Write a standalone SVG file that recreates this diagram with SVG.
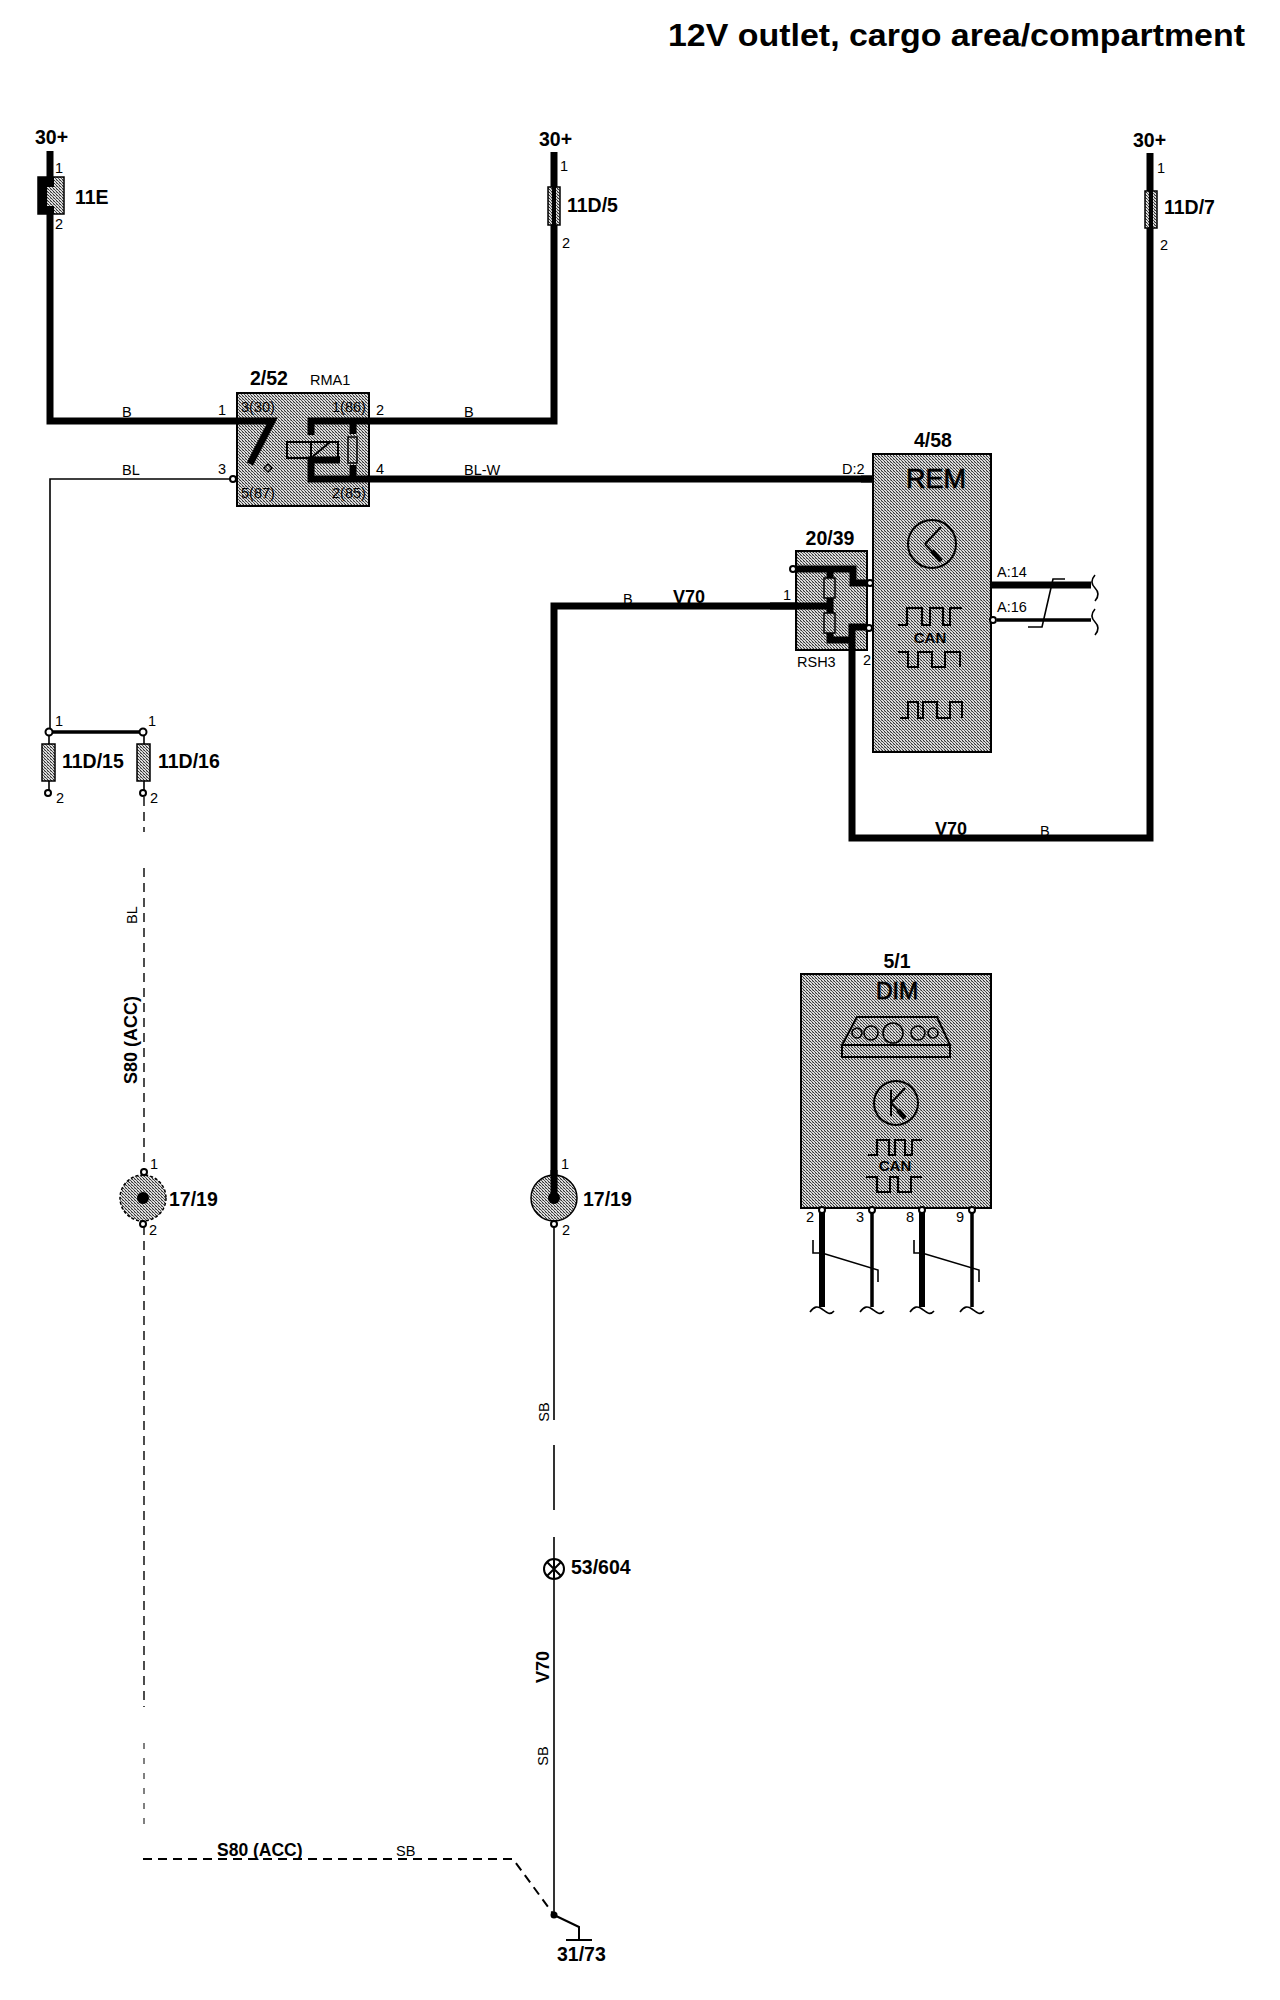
<svg xmlns="http://www.w3.org/2000/svg" width="1280" height="2000" viewBox="0 0 1280 2000">
<style>
text{font-family:"Liberation Sans",Arial,sans-serif;fill:#000}
.b{font-weight:700;font-size:19.5px}
.s{font-size:14.5px}
.m{font-size:18px;font-weight:700}
.mid{text-anchor:middle}
.box{fill:url(#dither);stroke:#000;stroke-width:2}
.hatch{fill:url(#dither);stroke:#000;stroke-width:1.5}
.w7,.w3,.w2,.w1,.d2{fill:none;stroke:#000}
.w7{stroke-width:7;stroke-linejoin:miter}
.w3{stroke-width:3.5}
.w2{stroke-width:1.6}
.w1{stroke-width:2}
.d2{stroke-width:2}
.d1{fill:none;stroke:#000;stroke-width:1.4}
.pin{fill:#fff;stroke:#000;stroke-width:2}
</style>
<defs>
<pattern id="dither" width="3" height="3" patternUnits="userSpaceOnUse">
<rect width="3" height="3" fill="#dcdcdc"/>
<rect width="1" height="1" fill="#333"/>
<rect x="1" y="1" width="1" height="1" fill="#555"/>
<rect x="2" y="2" width="1" height="1" fill="#333"/>
<rect x="2" width="1" height="1" fill="#999"/>
</pattern>
</defs>

<text id="title" x="668" y="46" font-size="32" font-weight="700" textLength="577" lengthAdjust="spacingAndGlyphs">12V outlet, cargo area/compartment</text>

<g id="connectors">
<path class="w7" d="M50 151V421H272L250 464"/>
<path class="w7" d="M554 152V421H311V435"/>
<path class="w7" d="M340 460H311V479H874"/>
<path class="w7" d="M1150 153V838H852V627H867"/>
<path class="w2" d="M233 479H50V732"/>
<path class="w2" d="M237 479H268V470"/>
<path class="w3" d="M50 732H143"/>
<path class="w2" d="M49 735V793M144 735V793"/>
<path class="w7" d="M554 1198V606H833"/>
<path class="w7" d="M796 569H853V583H868"/>
<path class="w7" d="M830 569V578M830 598V613M830 633V640H852"/>
<path class="w7" d="M992 585H1091"/>
<path class="w3" d="M997 620H1091"/>
<path class="w2" d="M1065 579H1053L1042 627H1028"/>
<path class="w2" d="M554 1224V1420M554 1445V1510M554 1537V1915"/>
<path class="d1" stroke-dasharray="9 6" d="M144 797V832M144 868V1172M144 1226V1707"/>
<path class="d1" style="stroke-width:1" stroke-dasharray="6 9" d="M144 1743V1830"/>
<path class="d2" stroke-dasharray="9 6" d="M143 1859H513L554 1915"/>
<path class="w1" d="M554 1915L579 1927V1940M566 1940H592"/>
<path class="w7" d="M822 1208V1307M922 1208V1307" style="stroke-width:6"/>
<path class="w3" d="M872 1208V1307M972 1208V1307"/>
<path class="w2" d="M813 1240V1253H822L878 1270V1282M914 1240V1253H922L979 1270V1282"/>
<path class="w2" d="M810 1312C814 1306 818 1306 822 1309S830 1316 834 1311M860 1312C864 1306 868 1306 872 1309S880 1316 884 1311M910 1312C914 1306 918 1306 922 1309S930 1316 934 1311M960 1312C964 1306 968 1306 972 1309S980 1316 984 1311"/>
<path class="w2" d="M1095 575Q1089 582 1095 588T1095 601M1095 609Q1089 616 1095 622T1095 635"/>
</g>

<g id="n30-1"><text class="b" x="35" y="144">30+</text></g>
<g id="n30-2"><text class="b" x="539" y="146">30+</text></g>
<g id="n30-3"><text class="b" x="1133" y="147">30+</text></g>

<g id="fuse-11E">
<rect class="hatch" x="38" y="177" width="26" height="37"/>
<rect x="38" y="177" width="9" height="37"/>
<rect x="46" y="177" width="8" height="10"/><rect x="46" y="206" width="8" height="8"/>
<text class="s" x="55" y="173">1</text><text class="s" x="55" y="229">2</text>
<text class="b" x="75" y="204">11E</text>
</g>
<g id="fuse-11D-5">
<rect class="hatch" x="548" y="187" width="12" height="38"/>
<path class="w2" d="M554 187V225" style="stroke-width:4"/>
<text class="s" x="560" y="171">1</text><text class="s" x="562" y="248">2</text>
<text class="b" x="567" y="212">11D/5</text>
</g>
<g id="fuse-11D-7">
<rect class="hatch" x="1145" y="191" width="12" height="37"/>
<path class="w2" d="M1151 191V228" style="stroke-width:4"/>
<text class="s" x="1157" y="173">1</text><text class="s" x="1160" y="250">2</text>
<text class="b" x="1164" y="214">11D/7</text>
</g>

<g id="relay-2-52">
<rect class="box" x="237" y="393" width="132" height="113"/>
<path class="w7" d="M237 421H272L250 464"/>
<path class="w7" d="M369 421H311V435"/>
<path class="w7" d="M340 460H311V479H369"/>
<path class="w7" d="M353 421V434M353 465V479"/>
<rect class="hatch" x="348" y="437" width="9" height="26"/>
<path class="w1" d="M311 442H338V458H311M287 442H311V458H287ZM311 458L330 442" style="fill:none;stroke:#000"/>
<path d="M268 464l4 4-4 4-4-4z" fill="none" stroke="#000" stroke-width="1.5"/>
<circle class="pin" cx="233" cy="479" r="3"/>
<text class="b" x="250" y="385">2/52</text>
<text class="s" x="310" y="385">RMA1</text>
<text class="s" x="241" y="412">3(30)</text>
<text class="s" x="332" y="412">1(86)</text>
<text class="s" x="241" y="498">5(87)</text>
<text class="s" x="332" y="498">2(85)</text>
<text class="s" x="218" y="415">1</text><text class="s" x="376" y="415">2</text>
<text class="s" x="218" y="474">3</text><text class="s" x="376" y="474">4</text>
</g>

<g id="module-4-58">
<rect class="box" x="873" y="454" width="118" height="298"/>
<path class="w3" d="M861 479H874" style="stroke-width:7"/>
<text class="b mid" x="933" y="447">4/58</text>
<text class="mid" x="936" y="488" font-size="27" style="stroke:#000;stroke-width:.7">REM</text>
<circle cx="932" cy="544" r="24" fill="none" stroke="#000" stroke-width="2"/>
<path class="w1" d="M925 544L941 527M925 544L941 561" style="stroke-width:2"/>
<path class="w1" d="M932 551L941 561" style="stroke-width:4.5"/>
<path class="w1" d="M898 625H907V608H922V625H930V608H943V625H950V608H962"/>
<path class="w1" d="M898 652H908V667H918V652H932V667H945V652H960V667"/>
<path class="w1" d="M900 718H908V702H918V718H923V702H937V718H950V702H962V718"/>
<text class="mid" x="930" y="643" font-size="15" font-weight="700">CAN</text>
<circle class="pin" cx="993" cy="620" r="3"/>
<text class="s" x="997" y="577">A:14</text>
<text class="s" x="997" y="612">A:16</text>
<text class="s" x="842" y="474">D:2</text>
</g>

<g id="module-20-39">
<rect class="box" x="796" y="551" width="71" height="99"/>
<path class="w7" d="M796 569H853V583H868"/>
<path class="w7" d="M770 606H833M830 569V578M830 598V613M830 633V640H852M852 650V627H867"/>
<rect class="hatch" x="824" y="578" width="11" height="20"/>
<rect class="hatch" x="824" y="613" width="11" height="20"/>
<circle class="pin" cx="793" cy="569" r="3"/>
<circle class="pin" cx="870" cy="583" r="3"/>
<circle class="pin" cx="869" cy="628" r="3"/>
<text class="b mid" x="830" y="545">20/39</text>
<text class="s" x="797" y="667">RSH3</text>
<text class="s" x="783" y="600">1</text><text class="s" x="863" y="665">2</text>
</g>

<g id="module-5-1">
<rect class="box" x="801" y="974" width="190" height="234"/>
<text class="b mid" x="897" y="968">5/1</text>
<text class="mid" x="897" y="999" font-size="23" style="stroke:#000;stroke-width:.7">DIM</text>
<path class="w1" d="M842 1045L857 1017H937L950 1045ZM842 1045V1057H950V1045"/>
<circle cx="857" cy="1033" r="5" fill="none" stroke="#000" stroke-width="1.6"/>
<circle cx="871" cy="1033" r="7" fill="none" stroke="#000" stroke-width="1.6"/>
<circle cx="893" cy="1033" r="10" fill="none" stroke="#000" stroke-width="1.6"/>
<circle cx="918" cy="1033" r="7" fill="none" stroke="#000" stroke-width="1.6"/>
<circle cx="933" cy="1033" r="5" fill="none" stroke="#000" stroke-width="1.6"/>
<circle cx="896" cy="1103" r="22" fill="none" stroke="#000" stroke-width="2"/>
<path class="w1" d="M891 1090V1116M891 1103L905 1088M891 1103L905 1118" style="stroke-width:2"/>
<path class="w1" d="M898 1110L905 1118" style="stroke-width:4.5"/>
<path class="w1" d="M868 1155H877V1140H889V1155H895V1140H905V1155H912V1140H922"/>
<path class="w1" d="M866 1177H877V1192H890V1177H898V1192H911V1177H922"/>
<text class="mid" x="895" y="1171" font-size="15" font-weight="700">CAN</text>
<circle class="pin" cx="822" cy="1210" r="3"/><circle class="pin" cx="872" cy="1210" r="3"/>
<circle class="pin" cx="922" cy="1210" r="3"/><circle class="pin" cx="972" cy="1210" r="3"/>
<text class="s" x="806" y="1222">2</text><text class="s" x="856" y="1222">3</text>
<text class="s" x="906" y="1222">8</text><text class="s" x="956" y="1222">9</text>
</g>

<g id="fuse-11D-15">
<circle class="pin" cx="49" cy="732" r="3.5"/>
<rect class="hatch" x="42" y="744" width="13" height="37"/>
<circle class="pin" cx="48" cy="793" r="3"/>
<text class="s" x="55" y="726">1</text><text class="s" x="56" y="803">2</text>
<text class="b" x="62" y="768">11D/15</text>
</g>
<g id="fuse-11D-16">
<circle class="pin" cx="143" cy="732" r="3.5"/>
<rect class="hatch" x="137" y="744" width="13" height="37"/>
<circle class="pin" cx="143" cy="793" r="3"/>
<text class="s" x="148" y="726">1</text><text class="s" x="150" y="803">2</text>
<text class="b" x="158" y="768">11D/16</text>
</g>

<g id="conn-17-19-left">
<circle class="hatch" cx="143" cy="1198" r="23" stroke-dasharray="3 2"/>
<circle cx="143" cy="1198" r="6"/>
<circle class="pin" cx="144" cy="1172" r="3"/><circle class="pin" cx="143" cy="1224" r="3"/>
<text class="s" x="150" y="1169">1</text><text class="s" x="149" y="1235">2</text>
<text class="b" x="169" y="1206">17/19</text>
</g>
<g id="conn-17-19-right">
<circle class="hatch" cx="554" cy="1198" r="23"/>
<path class="w7" d="M554 1170V1198"/>
<circle cx="554" cy="1198" r="6"/>
<circle class="pin" cx="554" cy="1224" r="3"/>
<text class="s" x="561" y="1169">1</text><text class="s" x="562" y="1235">2</text>
<text class="b" x="583" y="1206">17/19</text>
</g>

<g id="lamp-53-604">
<circle cx="554" cy="1569" r="10" fill="#fff" stroke="#000" stroke-width="2"/>
<path class="w1" d="M547 1562L561 1576M561 1562L547 1576M554 1559V1579"/>
<text class="b" x="571" y="1574">53/604</text>
</g>

<g id="ground-31-73">
<circle cx="554" cy="1915" r="3.5"/>
<text class="b" x="557" y="1961">31/73</text>
</g>

<g id="wire-labels">
<text class="s" x="122" y="417">B</text>
<text class="s" x="464" y="417">B</text>
<text class="s" x="122" y="475">BL</text>
<text class="s" x="464" y="475">BL-W</text>
<text class="s" x="623" y="604">B</text>
<text class="m" x="673" y="603">V70</text>
<text class="m" x="935" y="835">V70</text>
<text class="s" x="1040" y="836">B</text>
<text class="s mid" transform="translate(137 915) rotate(-90)">BL</text>
<text class="m mid" transform="translate(137 1040) rotate(-90)">S80 (ACC)</text>
<text class="s mid" transform="translate(549 1412) rotate(-90)">SB</text>
<text class="m mid" transform="translate(549 1667) rotate(-90)">V70</text>
<text class="s mid" transform="translate(548 1756) rotate(-90)">SB</text>
<text class="m" x="217" y="1856" style="font-size:17.5px">S80 (ACC)</text>
<text class="s" x="396" y="1856">SB</text>
</g>
</svg>
